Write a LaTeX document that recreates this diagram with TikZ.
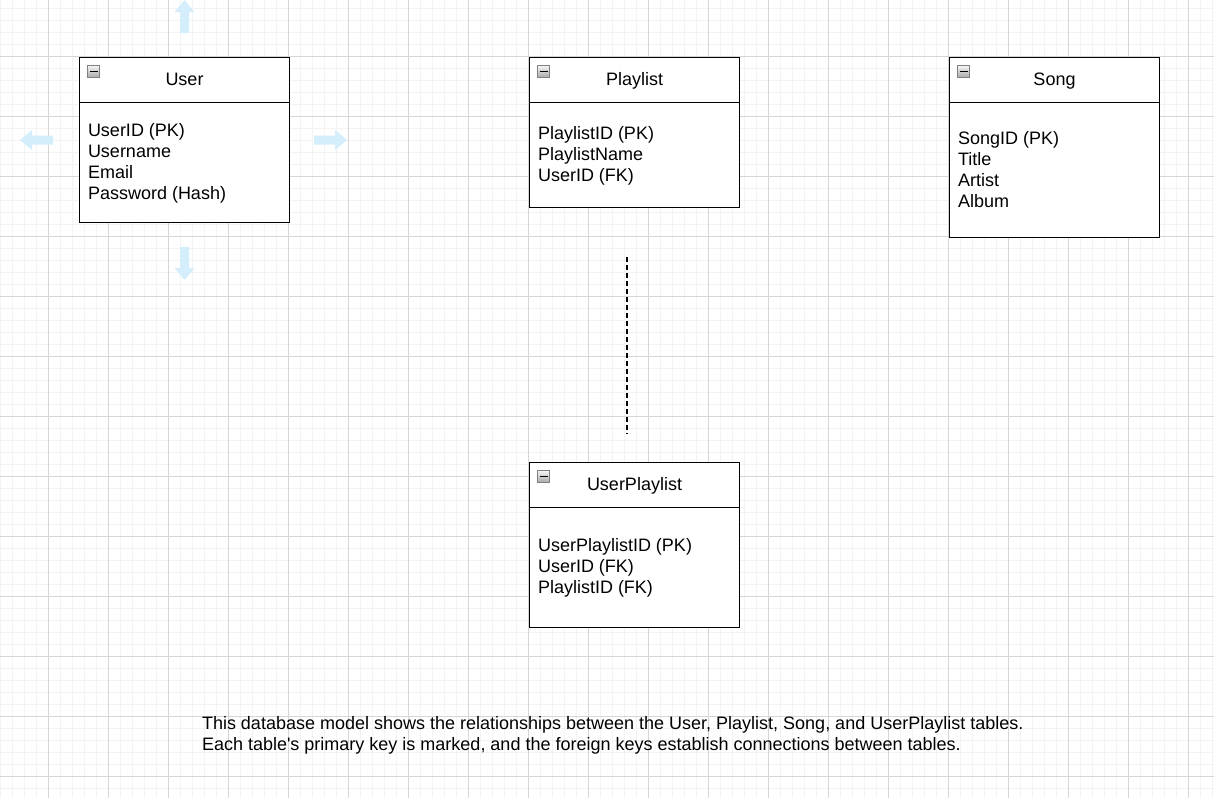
\documentclass[tikz,border=0pt]{standalone}
\usepackage{fontspec}
\setmainfont{Liberation Sans}
\definecolor{gridmajor}{HTML}{D6D6D6}
\definecolor{gridminor}{HTML}{F3F3F3}
\definecolor{hoverblue}{RGB}{212,238,251}
\definecolor{icontop}{HTML}{F6F6F6}
\definecolor{iconbottom}{HTML}{A8A8A8}
\definecolor{iconborder}{HTML}{808080}

% hover arrow: tail at #1, pointing in direction #2 (degrees)
\newcommand\hoverarrow[2]{%
  \fill[hoverblue, shift={#1}, rotate=#2]
    (0,-4.5) -- (21,-4.5) -- (21,-10) -- (33,0) -- (21,10) -- (21,4.5) -- (0,4.5) -- cycle;}

% one table: #1 name, #2 top-left corner, #3 body height, #4 title
\newcommand\dbtable[4]{%
  \node[headbox] (#1head) at #2 {};
  \node[bodybox, minimum height=#3pt] (#1body) at (#1head.south) {};
  \node[titletext] (#1title) at (#1head.center) {#4};
  \node[minusicon] (#1icon) at ([xshift=8pt,yshift=-8pt]#1head.north west) {};}

\begin{document}
\begin{tikzpicture}[x=1pt,y=-1pt,
  every node/.style={font=\fontsize{18}{21}\selectfont, inner sep=0pt, outer sep=0pt, text=black},
  minorline/.style={draw=gridminor, line width=1pt},
  majorline/.style={draw=gridmajor, line width=1pt},
  headbox/.style={draw=black, line width=1.5pt, fill=white,
    minimum width=210pt, minimum height=45pt, anchor=north west},
  bodybox/.style={draw=black, line width=1.5pt, fill=white,
    minimum width=210pt, anchor=north},
  titletext/.style={anchor=base, yshift=-5pt},
  fieldtext/.style={anchor=base west},
  minusicon/.style={anchor=north west, minimum size=12pt, draw=iconborder, line width=0.8pt,
    top color=icontop, bottom color=iconbottom,
    path picture={\draw[black, line width=1.6pt]
      ([xshift=2pt]path picture bounding box.west) --
      ([xshift=-2pt]path picture bounding box.east);}},
  relline/.style={draw=black, line width=1.8pt, dash pattern=on 4.5pt off 3.5pt},
]
\useasboundingbox (0,0) rectangle (1214,798);
\fill[white] (0,0) rectangle (1214,798);

% background grid
\foreach \gx in {0,12,...,1212} \draw[minorline] (\gx,0) -- (\gx,798);
\foreach \gy in {8,20,...,796} \draw[minorline] (0,\gy) -- (1214,\gy);
\foreach \gx in {48,108,...,1188} \draw[majorline] (\gx,0) -- (\gx,798);
\foreach \gy in {56,116,...,776} \draw[majorline] (0,\gy) -- (1214,\gy);

% hover arrows around the selected table
\hoverarrow{(184.5,33)}{90}
\hoverarrow{(184.5,247)}{-90}
\hoverarrow{(53,140)}{180}
\hoverarrow{(314,140)}{0}

% tables
\dbtable{user}{(79.5,57.5)}{120}{User}
\node[fieldtext] (userf1) at (88,136.7) {UserID (PK)};
\node[fieldtext] (userf2) at (88,157.7) {Username};
\node[fieldtext] (userf3) at (88,178.7) {Email};
\node[fieldtext] (userf4) at (88,199.7) {Password (Hash)};

\dbtable{playlist}{(529.5,57.5)}{105}{Playlist}
\node[fieldtext] (playlistf1) at (538,139.5) {PlaylistID (PK)};
\node[fieldtext] (playlistf2) at (538,160.5) {PlaylistName};
\node[fieldtext] (playlistf3) at (538,181.5) {UserID (FK)};

\dbtable{song}{(949.5,57.5)}{135}{Song}
\node[fieldtext] (songf1) at (958,144.3) {SongID (PK)};
\node[fieldtext] (songf2) at (958,165.3) {Title};
\node[fieldtext] (songf3) at (958,186.3) {Artist};
\node[fieldtext] (songf4) at (958,207.3) {Album};

\dbtable{userplaylist}{(529.5,462.5)}{120}{UserPlaylist}
\node[fieldtext] (userplaylistf1) at (538,551.7) {UserPlaylistID (PK)};
\node[fieldtext] (userplaylistf2) at (538,572.7) {UserID (FK)};
\node[fieldtext] (userplaylistf3) at (538,593.7) {PlaylistID (FK)};

% relationship line between Playlist and UserPlaylist
\coordinate (reltop) at (627,257);
\coordinate (relbottom) at (627,434);
\draw[relline] (reltop) -- (relbottom);

% caption
\node[fieldtext] (caption1) at (202,729) {This database model shows the relationships between the User, Playlist, Song, and UserPlaylist tables.};
\node[fieldtext] (caption2) at (202,750) {Each table\textquotesingle s primary key is marked, and the foreign keys establish connections between tables.};
\end{tikzpicture}
\end{document}
